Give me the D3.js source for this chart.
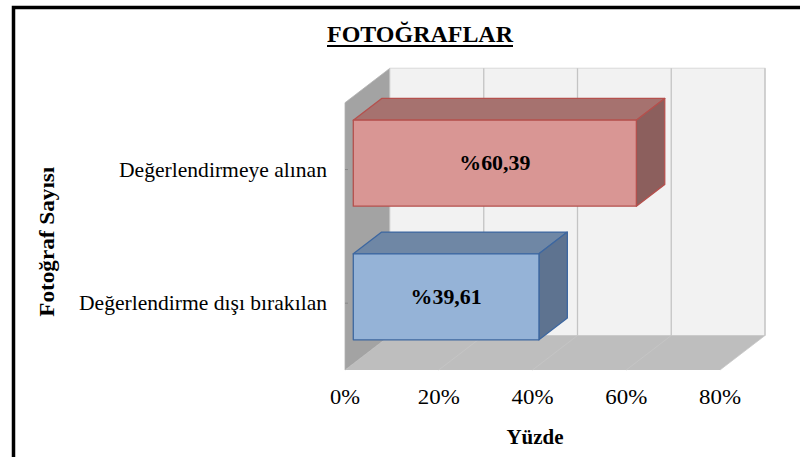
<!DOCTYPE html>
<html>
<head>
<meta charset="utf-8">
<script src="https://cdn.jsdelivr.net/npm/d3@7/dist/d3.min.js"></script>
<style>
html,body{margin:0;padding:0;background:#fff;}
svg{display:block;}
</style>
</head>
<body>
<svg id="chart" width="800" height="457"></svg>
<script>
// ---- data ----
const categories = ["Değerlendirmeye alınan", "Değerlendirme dışı bırakılan"];
const values = [60.39, 39.61];
const valueLabels = ["%60,39", "%39,61"];
const tickValues = [0, 20, 40, 60, 80];
const tickLabels = ["0%", "20%", "40%", "60%", "80%"];
const titleText = "FOTOĞRAFLAR";
const xTitle = "Yüzde";
const yTitle = "Fotoğraf  Sayısı";
const barColors = [
  {front:"#D99694", top:"#A6726F", side:"#8C5F5D", stroke:"#B5504D"},
  {front:"#95B3D7", top:"#6F87A5", side:"#5E7390", stroke:"#3D67A0"}
];

// ---- layout ----
const SERIF = "'Liberation Serif','Times New Roman',serif";
const svg = d3.select("#chart");
const plotTop = 102.7, plotBottom = 370;
const DX = 45, DY = -34.5;           // depth projection
const f1 = 0.184, f2 = 0.815;         // bar depth fractions

const x = d3.scaleLinear().domain([0, 80]).range([345, 720]);
const y = d3.scaleBand().domain(categories).range([plotTop, plotBottom])
  .paddingInner(0.357).paddingOuter(0.1785);
const yc = d3.scaleBand().domain(categories).range([plotTop, plotBottom]);

// frame
svg.append("rect").attr("x", 13.5).attr("y", 7.5).attr("width", 800).attr("height", 460)
  .attr("fill", "none").attr("stroke", "#000").attr("stroke-width", 3.5);

const pts = a => a.map(p => p.join(",")).join(" ");

// left side wall
svg.append("polygon")
  .attr("points", pts([[x(0), plotTop], [x(0)+DX, plotTop+DY], [x(0)+DX, plotBottom+DY], [x(0), plotBottom]]))
  .attr("fill", "#A3A3A3").attr("stroke", "#B0B0B0").attr("stroke-width", 0.8);

// back wall
svg.append("rect")
  .attr("x", x(0)+DX).attr("y", plotTop+DY)
  .attr("width", x(80)-x(0)).attr("height", plotBottom-plotTop)
  .attr("fill", "#F2F2F2").attr("stroke", "#D9D9D9").attr("stroke-width", 1);

// floor
svg.append("polygon")
  .attr("points", pts([[x(0)+DX, plotBottom+DY], [x(80)+DX, plotBottom+DY], [x(80), plotBottom], [x(0), plotBottom]]))
  .attr("fill", "#BEBEBE");

// gridlines on back wall and floor
const grid = svg.append("g");
tickValues.slice(1).forEach(v => {
  grid.append("line")
    .attr("x1", x(v)+DX).attr("x2", x(v)+DX)
    .attr("y1", plotTop+DY).attr("y2", plotBottom+DY)
    .attr("stroke", "#C4C4C4").attr("stroke-width", 1.3);
  grid.append("line")
    .attr("x1", x(v)+DX).attr("x2", x(v))
    .attr("y1", plotBottom+DY).attr("y2", plotBottom)
    .attr("stroke", "#C6C6C6").attr("stroke-width", 0.8);
});

// category ticks on left wall
categories.forEach(c => {
  const yy = yc(c) + yc.bandwidth()/2;
  svg.append("line").attr("x1", x(0)).attr("x2", x(0)+3).attr("y1", yy).attr("y2", yy)
    .attr("stroke", "#888").attr("stroke-width", 1);
});

// bars
const bars = svg.append("g");
categories.forEach((c, i) => {
  const col = barColors[i];
  const ox = DX*f1, oy = DY*f1;
  const bx = DX*(f2-f1), by = DY*(f2-f1);
  const x0 = x(0)+ox, x1 = x(values[i])+ox;
  const y0 = y(c)+oy, y1 = y(c)+y.bandwidth()+oy;
  const g = bars.append("g").attr("stroke", col.stroke).attr("stroke-width", 1.3).attr("stroke-linejoin", "round");
  g.append("polygon").attr("points", pts([[x0, y0], [x1, y0], [x1+bx, y0+by], [x0+bx, y0+by]])).attr("fill", col.top);
  g.append("polygon").attr("points", pts([[x1, y0], [x1+bx, y0+by], [x1+bx, y1+by], [x1, y1]])).attr("fill", col.side);
  g.append("rect").attr("x", x0).attr("y", y0).attr("width", x1-x0).attr("height", y1-y0).attr("fill", col.front);
  svg.append("text")
    .attr("x", (x0+x1)/2).attr("y", (y0+y1)/2 + 7)
    .attr("text-anchor", "middle").attr("font-family", SERIF).attr("font-size", 22).attr("font-weight", "bold")
    .attr("textLength", 71).attr("lengthAdjust", "spacingAndGlyphs")
    .attr("fill", "#000").text(valueLabels[i]);
});

// category labels
const catWidths = [208, 248];
categories.forEach((c, i) => {
  svg.append("text")
    .attr("x", 327).attr("y", yc(c) + yc.bandwidth()/2 + 7)
    .attr("text-anchor", "end").attr("font-family", SERIF).attr("font-size", 22).attr("fill", "#000")
    .attr("textLength", catWidths[i]).attr("lengthAdjust", "spacingAndGlyphs").text(c);
});

// x tick labels
tickValues.forEach((v, i) => {
  svg.append("text").attr("x", x(v)).attr("y", 404)
    .attr("text-anchor", "middle").attr("font-family", SERIF).attr("font-size", 22).attr("fill", "#000")
    .attr("textLength", i === 0 ? 30 : 42).attr("lengthAdjust", "spacingAndGlyphs").text(tickLabels[i]);
});

// titles
svg.append("text").attr("x", 420).attr("y", 41.7).attr("text-anchor", "middle")
  .attr("font-family", SERIF).attr("font-size", 23).attr("font-weight", "bold").attr("fill", "#000")
  .attr("textLength", 186).attr("lengthAdjust", "spacingAndGlyphs").text(titleText);
svg.append("rect").attr("x", 327).attr("y", 45).attr("width", 186).attr("height", 2).attr("fill", "#000");

svg.append("text").attr("x", 535).attr("y", 444).attr("text-anchor", "middle")
  .attr("font-family", SERIF).attr("font-size", 22).attr("font-weight", "bold").attr("fill", "#000")
  .attr("textLength", 57).attr("lengthAdjust", "spacingAndGlyphs").text(xTitle);

svg.append("text").attr("transform", "translate(54,241.7) rotate(-90)")
  .attr("text-anchor", "middle").attr("font-family", SERIF).attr("font-size", 22).attr("font-weight", "bold").attr("fill", "#000")
  .attr("textLength", 150).attr("lengthAdjust", "spacingAndGlyphs").text(yTitle);
</script>
</body>
</html>
